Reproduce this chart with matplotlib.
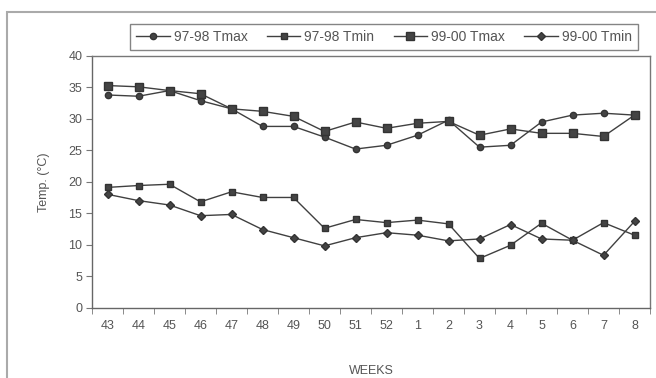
import matplotlib
matplotlib.use("Agg")
import matplotlib.pyplot as plt
from matplotlib.patches import Rectangle

weeks = ["43", "44", "45", "46", "47", "48", "49", "50", "51", "52",
         "1", "2", "3", "4", "5", "6", "7", "8"]
tmax_9798 = [33.8, 33.6, 34.5, 32.9, 31.6, 28.8, 28.8, 27.1, 25.2, 25.8,
             27.4, 29.8, 25.5, 25.8, 29.5, 30.6, 30.9, 30.6]
tmin_9798 = [19.1, 19.4, 19.6, 16.8, 18.4, 17.5, 17.5, 12.6, 14.0, 13.5,
             13.9, 13.3, 7.8, 9.9, 13.4, 10.7, 13.5, 11.5]
tmax_9900 = [35.3, 35.1, 34.5, 34.0, 31.6, 31.2, 30.4, 28.0, 29.5, 28.5,
             29.3, 29.6, 27.4, 28.4, 27.7, 27.7, 27.2, 30.6]
tmin_9900 = [18.0, 17.0, 16.3, 14.6, 14.8, 12.4, 11.1, 9.8, 11.1, 11.9,
             11.5, 10.6, 10.9, 13.2, 10.9, 10.7, 8.3, 13.7]
labels = ["97-98 Tmax", "97-98 Tmin", "99-00 Tmax", "99-00 Tmin"]

plt.rcParams['font.family'] = ['Liberation Sans', 'DejaVu Sans']
txt = '#555555'
lc = '#404040'

W, H = 656, 378
fig = plt.figure(figsize=(W / 100, H / 100), dpi=100)
fig.patch.set_facecolor('white')

# outer chart frame
fig.patches.append(Rectangle((7 / W, -0.05), 1.1, (H - 12) / H + 0.05,
                             transform=fig.transFigure, fill=False,
                             edgecolor='#aaaaaa', linewidth=1.5))

ax = fig.add_axes([92 / W, (H - 307.5) / H, 558 / W, 251.5 / H])
x = list(range(len(weeks)))
series = [
    (tmax_9798, 'o', 4.5),
    (tmin_9798, 's', 5.0),
    (tmax_9900, 's', 5.5),
    (tmin_9900, 'D', 3.8),
]
handles = []
for (vals, m, ms), lab in zip(series, labels):
    h, = ax.plot(x, vals, color=lc, linewidth=1.0, marker=m, markersize=ms,
                 markerfacecolor='#444444', markeredgecolor='#333333',
                 label=lab)
    handles.append(h)

ax.set_xlim(-0.5, len(weeks) - 0.5)
ax.set_ylim(0, 40)
ax.set_yticks(range(0, 41, 5))
ax.set_xticks(x)
ax.set_xticklabels(weeks)
ax.set_xticks([i - 0.5 for i in range(len(weeks) + 1)], minor=True)
ax.tick_params(axis='x', which='major', length=0, pad=9, labelsize=9,
               labelcolor=txt)
ax.tick_params(axis='x', which='minor', length=4, direction='out',
               color='#777777')
ax.tick_params(axis='y', length=4, direction='out', color='#777777',
               labelsize=9, labelcolor=txt, pad=3)
for s in ax.spines.values():
    s.set_color('#777777')
    s.set_linewidth(1.0)
ax.spines['left'].set_color('#666666')
ax.spines['bottom'].set_color('#666666')

ax.set_ylabel("Temp. (°C)", fontsize=9, color=txt, labelpad=13)
ax.set_xlabel("WEEKS", fontsize=9, color=txt, labelpad=24)

leg = fig.legend(handles=handles, labels=labels, ncol=4, loc='lower left',
                 bbox_to_anchor=(130 / W, 1 - 50 / H, 508 / W, 31 / H),
                 mode='expand', frameon=True, fancybox=False, fontsize=10,
                 handlelength=2.4, handletextpad=0.3, columnspacing=0.6,
                 borderpad=0.45, labelcolor=txt, borderaxespad=0)
leg.get_frame().set_edgecolor('#666666')
leg.get_frame().set_linewidth(1.0)

fig.savefig("out.png", dpi=100, facecolor='white')
